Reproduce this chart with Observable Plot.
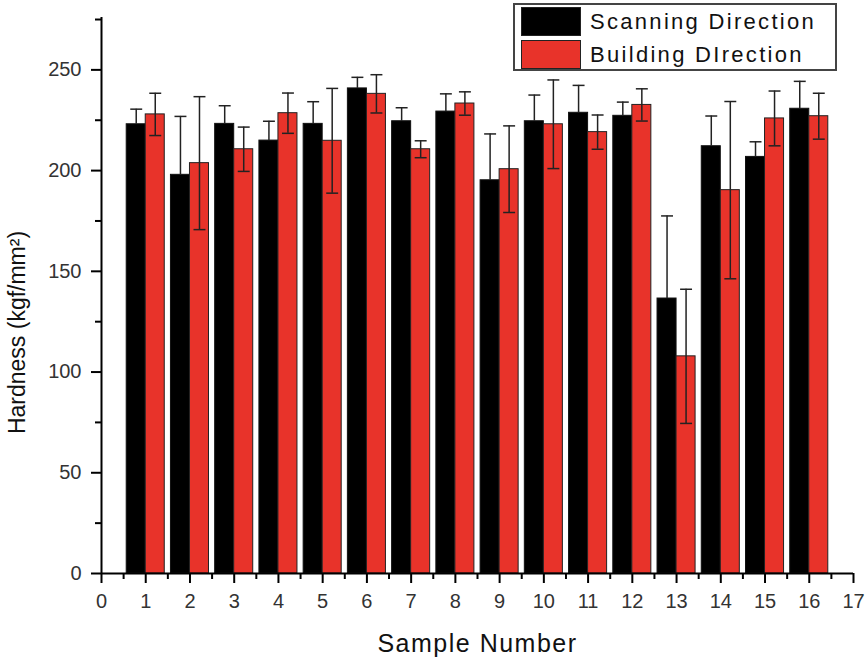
<!DOCTYPE html>
<html>
<head>
<meta charset="utf-8">
<script src="https://cdn.jsdelivr.net/npm/d3@7"></script>
<script src="https://cdn.jsdelivr.net/npm/@observablehq/plot@0.6"></script>
<style>
  html, body { margin: 0; padding: 0; background: #fff; }
  #wrap { position: relative; width: 868px; height: 660px; font-family: "Liberation Sans", Arial, sans-serif; }
  #legend { position: absolute; left: 513px; top: 3px; width: 320px; height: 64px; border: 2px solid #444; background: #fff; }
  .row { position: absolute; left: 6px; height: 31px; display: flex; align-items: center; }
  .sw { width: 60px; height: 29px; border: 1px solid #222; box-sizing: border-box; }
  .lab { margin-left: 9px; font-size: 22px; letter-spacing: 2.3px; color: #111; }
</style>
</head>
<body>
<div id="wrap"></div>
<script>
const samples = [1, 2, 3, 4, 5, 6, 7, 8, 9, 10, 11, 12, 13, 14, 15, 16];
const scanning = [223.0, 197.9, 223.2, 214.9, 223.2, 240.8, 224.5, 229.3, 195.2, 224.5, 228.7, 227.2, 136.5, 212.1, 206.8, 230.7];
const scanningErr = [7.5, 29, 9, 9.6, 11, 5.5, 6.7, 8.8, 23, 13, 13.6, 6.8, 41, 15, 7.5, 13.6];
const building = [227.9, 203.7, 210.6, 228.5, 214.8, 238.1, 210.6, 233.3, 200.7, 223.0, 219.1, 232.6, 107.8, 190.3, 225.9, 227.0];
const buildingErr = [10.5, 33, 11, 10, 26, 9.5, 4.2, 5.8, 21.5, 22, 8.5, 8, 33.3, 44, 13.6, 11.4];
const xTicks = d3.range(0, 18);
const yTicks = [0, 50, 100, 150, 200, 250];
const seriesNames = ["Scanning Direction", "Building DIrection"];
const colors = ["#000000", "#e8332a"];

const half = 0.43;
const capHalf = 0.135;
const data = samples.map((s, i) => ({s, scan: scanning[i], scanErr: scanningErr[i], build: building[i], buildErr: buildingErr[i]}));

const chart = Plot.plot({
  width: 868,
  height: 660,
  marginLeft: 101,
  marginRight: 15,
  marginTop: 17,
  marginBottom: 87,
  style: {fontFamily: "Liberation Sans, Arial, sans-serif", fontSize: "20px", background: "#fff"},
  x: {domain: [0, 17]},
  y: {domain: [0, 276]},
  marks: [
    Plot.rect(data, {x1: d => d.s - half, x2: d => d.s, y1: 0, y2: "scan", fill: colors[0], stroke: "#111", strokeWidth: 1}),
    Plot.rect(data, {x1: d => d.s, x2: d => d.s + half, y1: 0, y2: "build", fill: colors[1], stroke: "#222", strokeWidth: 1}),
    Plot.ruleX(data, {x: d => d.s - half / 2, y1: d => d.scan, y2: d => d.scan + d.scanErr, stroke: "#222", strokeWidth: 1.5}),
    Plot.link(data, {x1: d => d.s - half / 2 - capHalf, x2: d => d.s - half / 2 + capHalf, y1: d => d.scan + d.scanErr, y2: d => d.scan + d.scanErr, stroke: "#222", strokeWidth: 1.5}),
    Plot.ruleX(data, {x: d => d.s + half / 2, y1: d => d.build - d.buildErr, y2: d => d.build + d.buildErr, stroke: "#222", strokeWidth: 1.5}),
    Plot.link(data, {x1: d => d.s + half / 2 - capHalf, x2: d => d.s + half / 2 + capHalf, y1: d => d.build + d.buildErr, y2: d => d.build + d.buildErr, stroke: "#222", strokeWidth: 1.5}),
    Plot.link(data, {x1: d => d.s + half / 2 - capHalf, x2: d => d.s + half / 2 + capHalf, y1: d => d.build - d.buildErr, y2: d => d.build - d.buildErr, stroke: "#222", strokeWidth: 1.5}),
    Plot.axisX({ticks: xTicks, tickSize: 10, tickPadding: 10, tickFormat: d => String(d), label: null, stroke: "black", fill: "#333", strokeWidth: 2}),
    Plot.axisX({ticks: d3.range(0.5, 17, 1), tickSize: 6, tickFormat: () => "", label: null, stroke: "black", strokeWidth: 2}),
    Plot.axisY({ticks: yTicks, tickSize: 10, tickPadding: 10, tickFormat: d => String(d), label: null, stroke: "black", fill: "#333", strokeWidth: 2}),
    Plot.axisY({ticks: d3.range(25, 276, 50), tickSize: 6, tickFormat: () => "", label: null, stroke: "black", strokeWidth: 2}),
    Plot.ruleY([0], {x1: 0, x2: 17, stroke: "black", strokeWidth: 2}),
    Plot.ruleX([0], {y1: 0, y2: 276, stroke: "black", strokeWidth: 2}),
    Plot.text(["Sample Number"], {frameAnchor: "bottom", dy: 78, fontSize: 25, fill: "#111", className: "xtitle"}),
    Plot.text(["Hardness (kgf/mm²)"], {frameAnchor: "left", textAnchor: "middle", rotate: -90, dx: -84, dy: 37, fontSize: 23, fill: "#111"})
  ]
});

d3.select(chart).selectAll(".xtitle text").attr("letter-spacing", "1.5px");
const wrap = document.getElementById("wrap");
wrap.appendChild(chart);

const legend = document.createElement("div");
legend.id = "legend";
seriesNames.forEach((name, i) => {
  const row = document.createElement("div");
  row.className = "row";
  row.style.top = (1 + i * 33) + "px";
  const sw = document.createElement("div");
  sw.className = "sw";
  sw.style.background = colors[i];
  const lab = document.createElement("span");
  lab.className = "lab";
  lab.textContent = name;
  row.appendChild(sw);
  row.appendChild(lab);
  legend.appendChild(row);
});
wrap.appendChild(legend);
</script>
</body>
</html>
